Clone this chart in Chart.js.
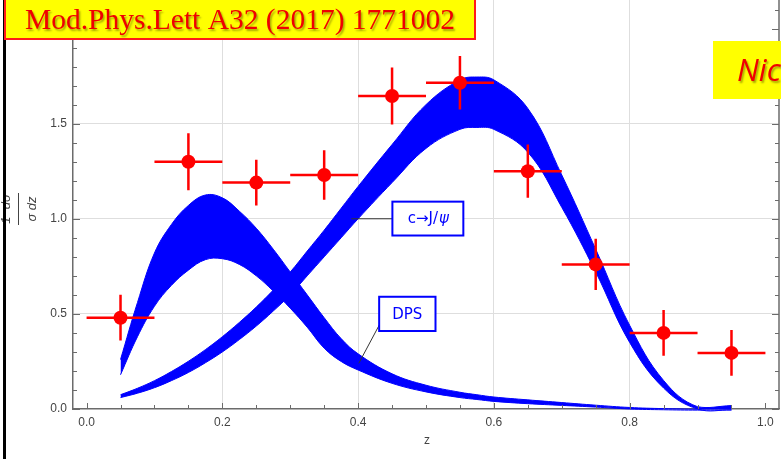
<!DOCTYPE html>
<html>
<head>
<meta charset="utf-8">
<script src="https://cdn.jsdelivr.net/npm/chart.js@4.4.1/dist/chart.umd.min.js"></script>
<style>
  html, body { margin: 0; padding: 0; background: #fff; }
  #wrap { width: 781px; height: 459px; position: relative; }
</style>
</head>
<body>
<div id="wrap"><canvas id="zChart" width="781" height="459"></canvas></div>
<script>
// measured z distribution (bin centres, values, vertical errors)
const zBins = [0.05, 0.15, 0.25, 0.35, 0.45, 0.55, 0.65, 0.75, 0.85, 0.95];
const zHalfWidth = [0.05, 0.05, 0.05, 0.05, 0.05, 0.05, 0.05, 0.05, 0.05, 0.05];
const dataValues = [0.48, 1.30, 1.19, 1.23, 1.645, 1.715, 1.25, 0.76, 0.40, 0.295];
const dataErrors = [0.12, 0.15, 0.12, 0.13, 0.15, 0.14, 0.14, 0.135, 0.12, 0.12];

// theory bands sampled in z
const zGrid = [0.05, 0.075, 0.1, 0.125, 0.15, 0.175, 0.2, 0.225, 0.25, 0.275, 0.3, 0.325, 0.35, 0.375,
               0.4, 0.45, 0.5, 0.55, 0.575, 0.6, 0.65, 0.7, 0.75, 0.8, 0.85, 0.9, 0.95];
const fragUpper = [0.075, 0.109, 0.149, 0.197, 0.251, 0.312, 0.38, 0.455, 0.536, 0.625, 0.72, 0.83, 0.94, 1.055,
                   1.17, 1.39, 1.60, 1.73, 1.745, 1.73, 1.58, 1.23, 0.84, 0.44, 0.15, 0.012, 0.018];
const fragLower = [0.06, 0.083, 0.112, 0.149, 0.192, 0.243, 0.30, 0.365, 0.436, 0.515, 0.60, 0.70, 0.80, 0.90,
                   1.00, 1.19, 1.37, 1.47, 1.48, 1.47, 1.35, 1.06, 0.72, 0.35, 0.11, 0.0, -0.005];
const dpsUpper  = [0.26, 0.56, 0.82, 0.97, 1.07, 1.125, 1.11, 1.04, 0.95, 0.84, 0.72, 0.60, 0.48, 0.37,
                   0.29, 0.185, 0.125, 0.088, 0.075, 0.063, 0.048, 0.034, 0.02, 0.008, 0.002, -0.001, 0.001];
const dpsLower  = [0.18, 0.38, 0.54, 0.65, 0.73, 0.785, 0.79, 0.76, 0.70, 0.62, 0.53, 0.43, 0.32, 0.25,
                   0.205, 0.135, 0.09, 0.06, 0.05, 0.04, 0.028, 0.019, 0.01, 0.0, -0.004, -0.006, -0.005];

// axis ticks
const xTickValues = [0, 0.2, 0.4, 0.6, 0.8, 1.0];
const xTickLabels = ['0.0', '0.2', '0.4', '0.6', '0.8', '1.0'];
const yTickValues = [0, 0.5, 1.0, 1.5];
const yTickLabels = ['0.0', '0.5', '1.0', '1.5'];

const BLUE = '#0000ff';
const RED = '#ff0000';
const AXIS = '#6b6b6b';
const GRID = '#dedede';

const pts = (ys) => zGrid.map((z, i) => ({ x: z, y: ys[i] }));

const bandStyle = {
  showLine: true,
  borderColor: BLUE,
  backgroundColor: BLUE,
  borderWidth: 1,
  pointRadius: 0,
  tension: 0.4,
  clip: 4
};

// keep the plot box fixed: no extra room for the edge tick labels
const noEdgePadding = (scale) => {
  scale.paddingTop = 0;
  scale.paddingBottom = 0;
  scale.paddingLeft = 0;
  scale.paddingRight = 0;
};

// error bars under the data points, inward tick marks, frame and notes
const decorations = {
  id: 'decorations',
  beforeDatasetDraw(chart, args) {
    if (args.index !== 0) return;
    const { ctx, scales: { x, y } } = chart;
    ctx.save();
    ctx.strokeStyle = RED;
    ctx.lineWidth = 2.5;
    zBins.forEach((z, i) => {
      const px = x.getPixelForValue(z);
      const py = y.getPixelForValue(dataValues[i]);
      ctx.beginPath();
      ctx.moveTo(x.getPixelForValue(z - zHalfWidth[i]), py);
      ctx.lineTo(x.getPixelForValue(z + zHalfWidth[i]), py);
      ctx.moveTo(px, y.getPixelForValue(dataValues[i] + dataErrors[i]));
      ctx.lineTo(px, y.getPixelForValue(dataValues[i] - dataErrors[i]));
      ctx.stroke();
    });
    ctx.restore();
  },
  afterDraw(chart) {
    const { ctx, chartArea: a, scales: { x, y } } = chart;
    ctx.save();

    // right frame line
    ctx.strokeStyle = AXIS;
    ctx.lineWidth = 1.5;
    ctx.beginPath();
    ctx.moveTo(a.right, a.top);
    ctx.lineTo(a.right, a.bottom);
    ctx.stroke();

    // inward tick marks
    ctx.lineWidth = 1;
    ctx.beginPath();
    for (let k = 0; k <= 20; k++) {
      const v = k * 0.05;
      const px = Math.round(x.getPixelForValue(v)) + 0.5;
      const len = (k % 4 === 0) ? 6 : 4;
      ctx.moveTo(px, a.bottom);
      ctx.lineTo(px, a.bottom - len);
    }
    for (let k = 0; k <= 21; k++) {
      const v = k * 0.1;
      const py = Math.round(y.getPixelForValue(v)) + 0.5;
      const len = (k % 5 === 0) ? 7 : 4;
      ctx.moveTo(a.left, py);
      ctx.lineTo(a.left + len, py);
      ctx.moveTo(a.right, py);
      ctx.lineTo(a.right - len, py);
    }
    ctx.stroke();

    // curve labels
    const note = (text, italicTail, from, to, box) => {
      ctx.strokeStyle = '#333';
      ctx.lineWidth = 1;
      ctx.beginPath();
      ctx.moveTo(x.getPixelForValue(from[0]), y.getPixelForValue(from[1]));
      ctx.lineTo(x.getPixelForValue(to[0]), y.getPixelForValue(to[1]));
      ctx.stroke();
      const bx0 = x.getPixelForValue(box[0]), by0 = y.getPixelForValue(box[1]);
      const bx1 = x.getPixelForValue(box[2]), by1 = y.getPixelForValue(box[3]);
      ctx.fillStyle = '#fff';
      ctx.fillRect(bx0, by0, bx1 - bx0, by1 - by0);
      ctx.strokeStyle = BLUE;
      ctx.lineWidth = 2;
      ctx.strokeRect(bx0, by0, bx1 - bx0, by1 - by0);
      ctx.fillStyle = BLUE;
      ctx.textBaseline = 'middle';
      ctx.font = '15px "DejaVu Sans", sans-serif';
      const w1 = ctx.measureText(text).width;
      ctx.font = 'italic 15px "DejaVu Sans", sans-serif';
      const w2 = italicTail ? ctx.measureText(italicTail).width : 0;
      const tx = (bx0 + bx1) / 2 - (w1 + w2) / 2;
      const ty = (by0 + by1) / 2 + 1;
      ctx.textAlign = 'left';
      ctx.font = '15px "DejaVu Sans", sans-serif';
      ctx.fillText(text, tx, ty);
      if (italicTail) {
        ctx.font = 'italic 15px "DejaVu Sans", sans-serif';
        ctx.fillText(italicTail, tx + w1 + 1, ty);
      }
    };
    note('c\u2192J/', '\u03c8', [0.39, 1.0], [0.4505, 1.0], [0.4505, 1.09, 0.555, 0.912]);
    note('DPS', '', [0.401, 0.24], [0.432, 0.447], [0.431, 0.59, 0.514, 0.41]);

    // x axis title
    ctx.fillStyle = '#444';
    ctx.font = '12px "Liberation Sans", Arial, sans-serif';
    ctx.textAlign = 'center';
    ctx.textBaseline = 'middle';
    ctx.fillText('z', 427, 441);

    // y axis title: (1/sigma) dsigma/dz, rotated
    ctx.save();
    ctx.translate(0, 209);
    ctx.rotate(-Math.PI / 2);
    ctx.fillStyle = '#444';
    ctx.font = 'italic 13px "Liberation Sans", Arial, sans-serif';
    ctx.textAlign = 'center';
    ctx.textBaseline = 'alphabetic';
    ctx.fillText('1  d\u03c3', 0, 10);
    ctx.fillText('\u03c3 dz', 0, 36);
    ctx.strokeStyle = '#444';
    ctx.lineWidth = 1;
    ctx.beginPath();
    ctx.moveTo(-16, 18.5);
    ctx.lineTo(16, 18.5);
    ctx.stroke();
    ctx.restore();

    // page border on the left
    ctx.fillStyle = '#000';
    ctx.fillRect(3, 0, 3, 459);

    // journal reference banner
    ctx.fillStyle = '#ffff00';
    ctx.fillRect(5, -4, 470, 43);
    ctx.strokeStyle = '#ff1a1a';
    ctx.lineWidth = 2;
    ctx.strokeRect(5, -4, 470, 43);
    ctx.font = '29.5px "Liberation Serif", "Times New Roman", serif';
    ctx.textAlign = 'center';
    ctx.textBaseline = 'alphabetic';
    ctx.shadowColor = 'rgba(0,0,0,0.35)';
    ctx.shadowOffsetX = 1.5;
    ctx.shadowOffsetY = 1.5;
    ctx.shadowBlur = 2;
    ctx.fillStyle = '#f00000';
    ctx.fillText('Mod.Phys.Lett A32 (2017) 1771002', 240, 29);

    // name banner at the right edge
    ctx.shadowColor = 'transparent';
    ctx.fillStyle = '#ffff00';
    ctx.fillRect(713, 41, 70, 58);
    ctx.shadowColor = 'rgba(0,0,0,0.35)';
    ctx.font = 'italic 31px "Open Sans", "DejaVu Sans", sans-serif';
    ctx.textAlign = 'left';
    ctx.fillStyle = '#f00000';
    ctx.fillText('Nic', 737, 81);
    ctx.restore();
  }
};

new Chart(document.getElementById('zChart'), {
  type: 'scatter',
  data: {
    datasets: [
      {
        label: 'data',
        data: zBins.map((z, i) => ({ x: z, y: dataValues[i] })),
        backgroundColor: RED,
        borderColor: RED,
        pointRadius: 7,
        pointHoverRadius: 7,
        borderWidth: 0
      },
      { label: 'c-frag lower', data: pts(fragLower), fill: false, ...bandStyle },
      { label: 'c-frag upper', data: pts(fragUpper), fill: '-1', ...bandStyle },
      { label: 'DPS lower', data: pts(dpsLower), fill: false, ...bandStyle },
      { label: 'DPS upper', data: pts(dpsUpper), fill: '-1', ...bandStyle }
    ]
  },
  options: {
    responsive: false,
    animation: false,
    devicePixelRatio: 1,
    layout: { autoPadding: false, padding: { left: 0, right: 2, top: 0, bottom: 0 } },
    plugins: {
      legend: { display: false },
      tooltip: { enabled: false }
    },
    scales: {
      x: {
        type: 'linear',
        min: -0.02,
        max: 1.02,
        afterBuildTicks: (scale) => { scale.ticks = xTickValues.map(v => ({ value: v })); },
        afterFit: (scale) => { scale.height = 50; noEdgePadding(scale); },
        grid: {
          drawTicks: false,
          color: (c) => (c.tick && c.tick.value > 0.1 && c.tick.value < 0.9) ? GRID : 'rgba(0,0,0,0)',
          lineWidth: 1
        },
        border: { display: true, color: AXIS, width: 1.5 },
        ticks: {
          padding: 6,
          color: '#444',
          font: { family: '"Liberation Sans", Arial, sans-serif', size: 12 },
          callback: (v, i) => xTickLabels[i]
        }
      },
      y: {
        type: 'linear',
        min: 0,
        max: 2.15,
        afterBuildTicks: (scale) => { scale.ticks = yTickValues.map(v => ({ value: v })); },
        afterFit: (scale) => { scale.width = 73; noEdgePadding(scale); },
        grid: {
          drawTicks: false,
          color: (c) => (c.tick && c.tick.value > 0.1) ? GRID : 'rgba(0,0,0,0)',
          lineWidth: 1
        },
        border: { display: true, color: AXIS, width: 1.5 },
        ticks: {
          padding: 6,
          color: '#444',
          font: { family: '"Liberation Sans", Arial, sans-serif', size: 12 },
          callback: (v, i) => yTickLabels[i]
        }
      }
    }
  },
  plugins: [decorations]
});
</script>
</body>
</html>
